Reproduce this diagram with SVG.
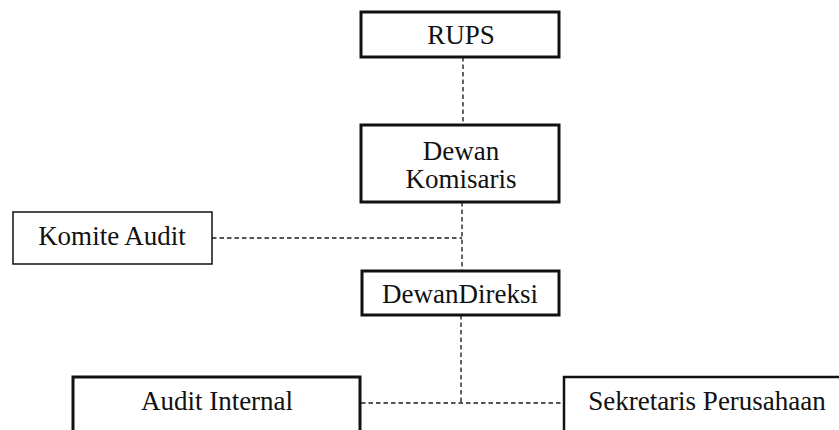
<svg xmlns="http://www.w3.org/2000/svg" width="839" height="430" viewBox="0 0 839 430">
  <style>
    .box { fill: #ffffff; stroke: #111111; }
    .thick { stroke-width: 3; }
    .thin { stroke-width: 1.5; }
    .mid { stroke-width: 2.5; }
    .label { font-family: "Liberation Serif", "Times New Roman", serif; font-size: 27px; fill: #111111; text-anchor: middle; }
    .dash { fill: none; stroke: #555555; stroke-width: 1.8; stroke-dasharray: 4.5 3; }
  </style>
  <rect width="839" height="430" fill="#ffffff"/>

  <g id="connectors">
    <line class="dash" x1="463" y1="57" x2="463" y2="125"/>
    <line class="dash" x1="462" y1="202" x2="462" y2="271"/>
    <line class="dash" x1="212" y1="238" x2="462" y2="238"/>
    <line class="dash" x1="461" y1="315" x2="461" y2="403"/>
    <line class="dash" x1="361" y1="403" x2="564" y2="403"/>
  </g>

  <g id="rups">
    <rect class="box thick" x="361" y="12" width="198" height="45"/>
    <text class="label" x="461" y="44">RUPS</text>
  </g>

  <g id="dewan-komisaris">
    <rect class="box thick" x="361" y="125" width="198" height="77"/>
    <text class="label" x="461" y="160">Dewan</text>
    <text class="label" x="461" y="188">Komisaris</text>
  </g>

  <g id="komite-audit">
    <rect class="box thin" x="13" y="212" width="199" height="52"/>
    <text class="label" x="112" y="245">Komite Audit</text>
  </g>

  <g id="dewan-direksi">
    <rect class="box thick" x="362" y="271" width="197" height="44"/>
    <text class="label" x="460" y="303">DewanDireksi</text>
  </g>

  <g id="audit-internal">
    <rect class="box thick" x="73" y="377" width="287" height="60"/>
    <text class="label" x="217" y="410">Audit Internal</text>
  </g>

  <g id="sekretaris-perusahaan">
    <rect class="box mid" x="564" y="377" width="290" height="60"/>
    <text class="label" x="707" y="410">Sekretaris Perusahaan</text>
  </g>
</svg>
